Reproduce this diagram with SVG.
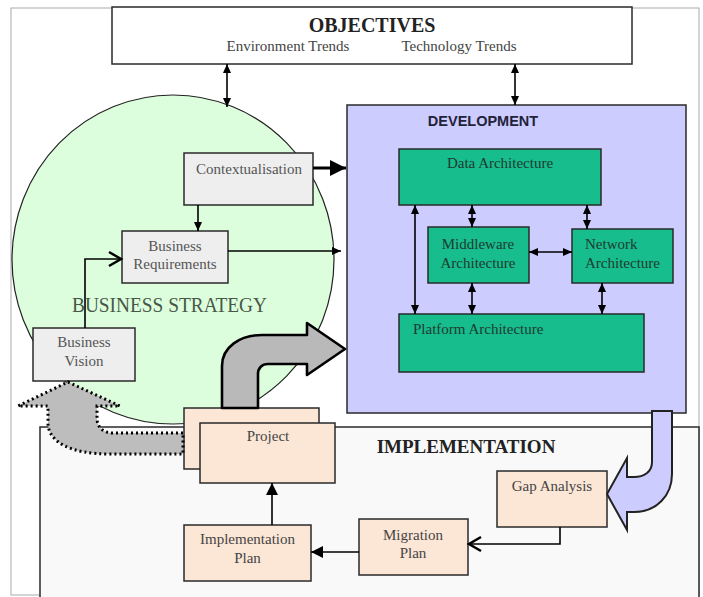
<svg xmlns="http://www.w3.org/2000/svg" width="703" height="597" viewBox="0 0 703 597">
<style>
.box{stroke:#2a2a2a;stroke-width:1.5}
.gray{fill:#eeeeee}
.grn{fill:#17bd8c}
.peach{fill:#fce6d6}
.t{font-family:"Liberation Serif","Times New Roman",serif;font-size:15px;text-anchor:middle}
.t.ts{text-anchor:start}
.tg{fill:#555}
.tk{fill:#1e3a30}
.tp{fill:#444}
.ln{fill:none;stroke:#000;stroke-width:1.6}
</style>
<defs>
<marker id="ah" markerUnits="userSpaceOnUse" markerWidth="9" markerHeight="8" refX="9" refY="4" orient="auto-start-reverse" overflow="visible"><path d="M0,0 L9,4 L0,8 z" fill="#000"/></marker>
<marker id="big" markerUnits="userSpaceOnUse" markerWidth="16" markerHeight="16" refX="16" refY="8" orient="auto" overflow="visible"><path d="M0,0 L16,8 L0,16 z" fill="#000"/></marker>
<marker id="mid" markerUnits="userSpaceOnUse" markerWidth="12" markerHeight="12" refX="12" refY="6" orient="auto" overflow="visible"><path d="M0,0 L12,6 L0,12 z" fill="#000"/></marker>
<marker id="open" markerUnits="userSpaceOnUse" markerWidth="14" markerHeight="14" refX="13" refY="7" orient="auto" overflow="visible"><path d="M1,0 L13,7 L1,14" fill="none" stroke="#000" stroke-width="2.5"/></marker>
</defs>
<rect x="0" y="0" width="703" height="597" fill="#ffffff"/>
<rect x="11" y="8" width="688" height="587" fill="none" stroke="#aaaaaa" stroke-width="1"/>

<g id="business-strategy">
<ellipse cx="173" cy="259.5" rx="161" ry="164.5" fill="#ddfedd" stroke="#222" stroke-width="1.2"/>
<text x="169.5" y="312" font-family="'Liberation Serif','Times New Roman',serif" font-size="20" fill="#485848" text-anchor="middle" textLength="195" lengthAdjust="spacingAndGlyphs">BUSINESS STRATEGY</text>
</g>

<g id="objectives">
<rect class="box" x="112" y="7" width="520" height="57" fill="#ffffff"/>
<text x="372" y="32" font-family="'Liberation Serif','Times New Roman',serif" font-size="20" font-weight="bold" fill="#222" text-anchor="middle">OBJECTIVES</text>
<text class="t" x="288" y="51" fill="#444">Environment Trends</text>
<text class="t" x="459" y="51" fill="#444">Technology Trends</text>
</g>

<g id="development">
<rect class="box" x="347" y="105" width="339" height="308" fill="#ccccff"/>
<text x="483" y="126" font-family="'Liberation Sans',Arial,sans-serif" font-size="14.5" font-weight="bold" fill="#22223a" text-anchor="middle">DEVELOPMENT</text>
</g>

<g id="implementation">
<rect x="40" y="427" width="659" height="175" fill="#f9f9f9" stroke="#2a2a2a" stroke-width="1.5"/>
<text x="466" y="453" font-family="'Liberation Serif','Times New Roman',serif" font-size="19" font-weight="bold" fill="#222" text-anchor="middle">IMPLEMENTATION</text>
</g>

<g id="contextualisation">
<rect class="box gray" x="184" y="153" width="129" height="52"/>
<text class="t tg" x="249" y="174">Contextualisation</text>
</g>
<g id="business-requirements">
<rect class="box gray" x="122" y="231" width="106" height="52"/>
<text class="t tg" x="175" y="251">Business</text>
<text class="t tg" x="175" y="269">Requirements</text>
</g>
<g id="business-vision">
<rect class="box gray" x="33" y="328" width="102" height="53"/>
<text class="t tg" x="84" y="347">Business</text>
<text class="t tg" x="84" y="366">Vision</text>
</g>

<g id="data-architecture">
<rect class="box grn" x="399" y="149" width="202" height="56"/>
<text class="t tk" x="500" y="168">Data Architecture</text>
</g>
<g id="middleware-architecture">
<rect class="box grn" x="428" y="227" width="101" height="56"/>
<text class="t tk" x="478" y="249">Middleware</text>
<text class="t tk" x="478" y="268">Architecture</text>
</g>
<g id="network-architecture">
<rect class="box grn" x="572" y="229" width="101" height="54"/>
<text class="t ts tk" x="585" y="249">Network</text>
<text class="t ts tk" x="585" y="268">Architecture</text>
</g>
<g id="platform-architecture">
<rect class="box grn" x="399" y="314" width="245" height="58"/>
<text class="t ts tk" x="413" y="334">Platform Architecture</text>
</g>

<g id="gap-analysis">
<rect class="box peach" x="497" y="471" width="110" height="56"/>
<text class="t tp" x="552" y="491">Gap Analysis</text>
</g>
<g id="migration-plan">
<rect class="box peach" x="359" y="519" width="109" height="56"/>
<text class="t tp" x="413" y="540">Migration</text>
<text class="t tp" x="413" y="558">Plan</text>
</g>
<g id="implementation-plan">
<rect class="box peach" x="184" y="525" width="127" height="56"/>
<text class="t tp" x="247.5" y="544">Implementation</text>
<text class="t tp" x="247.5" y="563">Plan</text>
</g>
<g id="project">
<rect class="box peach" x="184" y="408" width="135" height="61"/>
<rect class="box peach" x="200" y="423" width="135" height="60"/>
<text class="t tp" x="268" y="441">Project</text>
</g>

<g id="connectors">
<path d="M652,411 V462 C652,472 644,477 634,477 H627 V458 L607,494 L627,530 V512 H634 C656,512 672,496 672,474 V411 Z" fill="#ccccff" stroke="#222" stroke-width="2"/>
<path d="M222,408 V366 C222,347 240,335 262,335 H307 V323 L345,349 L307,375 V364 H268 C262,364 258,368 258,374 V408 Z" fill="#b9b9b9" stroke="#000" stroke-width="2.6" stroke-linejoin="round"/>
<path d="M183,433 H113 C104,433 97,428 97,418 V406 H120 L68,382 L18,406 H48 V425 C50,442 70,454 110,454 H183 Z" fill="#bdbdbd" stroke="#000" stroke-width="3" stroke-dasharray="2,3"/>

<path class="ln" d="M227,64 V107" marker-start="url(#ah)" marker-end="url(#ah)"/>
<path class="ln" d="M515,64 V105" marker-start="url(#ah)" marker-end="url(#ah)"/>

<path d="M313,168 H346" fill="none" stroke="#000" stroke-width="3" marker-end="url(#big)"/>
<path class="ln" d="M228,251 H341" stroke-width="2" marker-end="url(#ah)"/>
<path class="ln" d="M198,205 V231" stroke-width="2" marker-end="url(#ah)"/>
<path class="ln" d="M85,328 V259 H121" stroke-width="2.5" marker-end="url(#open)"/>

<path class="ln" d="M415,205 V314" marker-start="url(#ah)" marker-end="url(#ah)"/>
<path class="ln" d="M472,205 V227" marker-start="url(#ah)" marker-end="url(#ah)"/>
<path class="ln" d="M587,205 V229" marker-start="url(#ah)" marker-end="url(#ah)"/>
<path class="ln" d="M529,252 H572" marker-start="url(#ah)" marker-end="url(#ah)"/>
<path class="ln" d="M472,283 V314" marker-start="url(#ah)" marker-end="url(#ah)"/>
<path class="ln" d="M602,283 V314" marker-start="url(#ah)" marker-end="url(#ah)"/>

<path class="ln" d="M560,527 V544 H469" stroke-width="2.5" marker-end="url(#open)"/>
<path class="ln" d="M359,552 H311" stroke-width="3" marker-end="url(#mid)"/>
<path class="ln" d="M272,525 V483" stroke-width="3" marker-end="url(#mid)"/>
</g>
</svg>
